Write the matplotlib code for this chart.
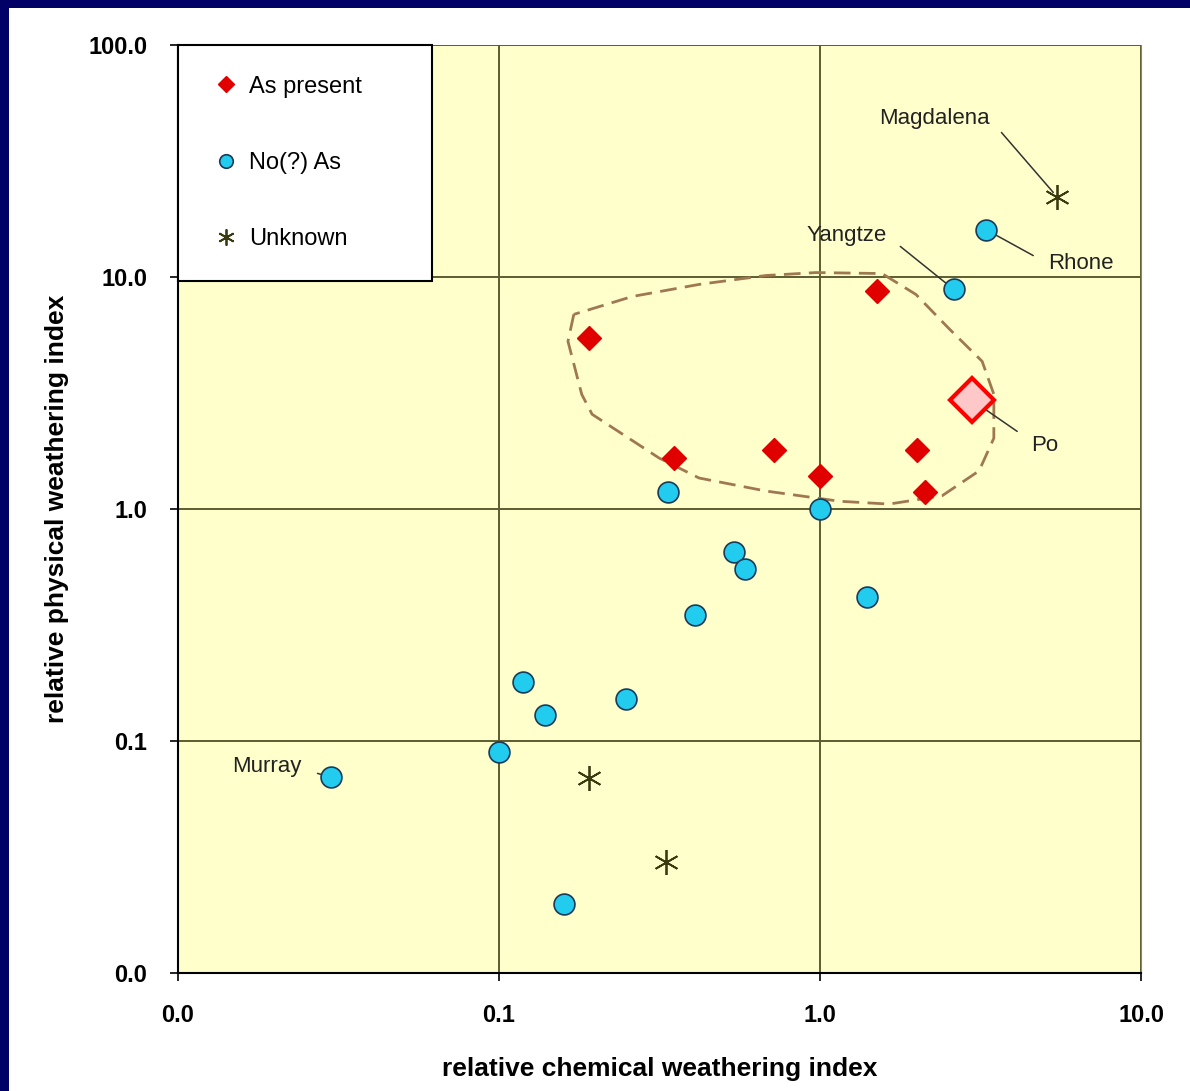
import matplotlib
matplotlib.use("Agg")
import matplotlib.pyplot as plt
from matplotlib.patches import Rectangle
from matplotlib.ticker import FixedLocator, FuncFormatter, NullLocator

plt.rcParams['font.family'] = ['Liberation Sans', 'DejaVu Sans']

# As present (red diamonds)
as_x = [0.191, 1.51, 0.351, 0.719, 1.0, 2.0, 2.12]
as_y = [5.44, 8.66, 1.66, 1.79, 1.39, 1.79, 1.18]

# Po (big pink diamond)
po_x = [2.98]
po_y = [2.94]

# No(?) As (cyan circles)
no_x = [3.29, 2.61, 0.336, 1.0, 0.54, 0.584, 1.40, 0.408, 0.119, 0.249, 0.139, 0.10, 0.030, 0.159]
no_y = [16.0, 8.84, 1.18, 1.0, 0.653, 0.552, 0.418, 0.350, 0.180, 0.151, 0.129, 0.0893, 0.0697, 0.0198]

# Unknown (asterisks)
unk_x = [0.191, 0.331, 5.47]
unk_y = [0.069, 0.030, 22.2]

# dashed envelope round the "As present" group
env_x = [0.171, 0.164, 0.181, 0.195, 0.315, 0.420, 0.679, 1.15, 1.64, 2.40, 3.13,
         3.48, 3.48, 3.20, 2.52, 1.99, 1.56, 0.97, 0.679, 0.420, 0.26, 0.171]
env_y = [6.90, 5.28, 3.12, 2.56, 1.66, 1.36, 1.195, 1.08, 1.05, 1.14, 1.46,
         2.02, 3.12, 4.33, 6.00, 8.41, 10.35, 10.45, 10.15, 9.29, 8.24, 6.90]

# river labels: (name, point, text position, side of the text the leader starts from)
labels = [
    ("Magdalena", (5.47, 22.2), (2.27, 48.1), (1.0, 0.5)),
    ("Yangtze", (2.61, 8.84), (1.21, 15.1), (1.0, 0.5)),
    ("Rhone", (3.29, 16.0), (6.5, 11.4), (0.0, 0.5)),
    ("Po", (2.98, 2.94), (5.02, 1.88), (0.0, 0.7)),
    ("Murray", (0.030, 0.0697), (0.0189, 0.0776), (1.0, 0.4)),
]

ticks_x = [0.01, 0.1, 1, 10]
ticks_y = [0.01, 0.1, 1, 10, 100]

fig = plt.figure(figsize=(11.9, 10.91), dpi=100, facecolor='#000066')
fig.patches.append(Rectangle((9 / 1190, 0), 1, 1 - 8 / 1091, transform=fig.transFigure,
                             facecolor='white', edgecolor='none', zorder=-1))

ax = fig.add_axes([178 / 1190, 1 - 973 / 1091, 963 / 1190, 928 / 1091])
ax.set_facecolor('#FFFFCC')
ax.set_xscale('log')
ax.set_yscale('log')
ax.set_xlim(0.01, 10)
ax.set_ylim(0.01, 100)

ax.xaxis.set_major_locator(FixedLocator(ticks_x))
ax.yaxis.set_major_locator(FixedLocator(ticks_y))
ax.xaxis.set_minor_locator(NullLocator())
ax.yaxis.set_minor_locator(NullLocator())
fmt = FuncFormatter(lambda v, p: "%.1f" % v)
ax.xaxis.set_major_formatter(fmt)
ax.yaxis.set_major_formatter(fmt)
ax.tick_params(axis='both', direction='out', length=6, width=1.2, color='black',
               labelsize=17, pad=16)
for t in ax.get_xticklabels() + ax.get_yticklabels():
    t.set_fontweight('bold')

ax.grid(True, color='#5C5C30', linewidth=1.4)
ax.set_axisbelow(True)
ax.spines['top'].set_visible(False)
ax.spines['right'].set_color('#8A8A60')
ax.spines['left'].set_linewidth(1.5)
ax.spines['bottom'].set_linewidth(1.5)

ax.plot(env_x, env_y, color='#A07850', linewidth=2, dashes=(6, 3), zorder=2)

ax.plot(as_x, as_y, linestyle='none', marker='D', markersize=12, color='#E00000',
        markeredgecolor='#E00000', label='As present', zorder=4)
ax.plot(no_x, no_y, linestyle='none', marker='o', markersize=15, markerfacecolor='#22CCEE',
        markeredgecolor='#1A3A5A', markeredgewidth=1.2, label='No(?) As', zorder=4)
ax.plot(unk_x, unk_y, linestyle='none', marker=(6, 2, 0), markersize=18, color='#3A3A10',
        markeredgewidth=1.3, label='Unknown', zorder=4)
ax.plot(po_x, po_y, linestyle='none', marker='D', markersize=22, markerfacecolor='#FFC8C8',
        markeredgecolor='#FF0000', markeredgewidth=3, zorder=5)

for name, pt, txt, rel in labels:
    ax.annotate(name, xy=pt, xytext=txt, textcoords='data', fontsize=16, color='#222222',
                ha='center', va='center',
                arrowprops=dict(arrowstyle='-', color='#333333', lw=1.1, relpos=rel,
                                shrinkA=10, shrinkB=4),
                zorder=3)

ax.set_xlabel('relative chemical weathering index', fontsize=19, fontweight='bold', labelpad=22)
ax.set_ylabel('relative physical weathering index', fontsize=19, fontweight='bold', labelpad=14)

leg = ax.legend(loc='upper left', bbox_to_anchor=(0, 0, 254 / 963, 1), mode='expand',
                fontsize=17, frameon=True, fancybox=False, edgecolor='black', framealpha=1,
                borderpad=1.3, labelspacing=2.3, handlelength=1.5, handletextpad=0.2,
                markerscale=0.65, borderaxespad=0)
leg.get_frame().set_linewidth(1.5)
leg.set_zorder(6)

fig.savefig('out.png', dpi=100, facecolor=fig.get_facecolor())
